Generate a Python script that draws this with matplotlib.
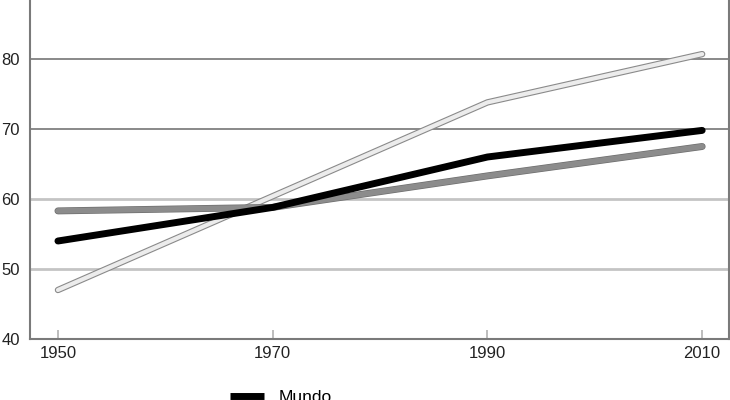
import matplotlib
matplotlib.use('Agg')
import matplotlib.pyplot as plt
import matplotlib.patheffects as pe
from matplotlib.lines import Line2D

years = [1950, 1970, 1990, 2010]
mundo = [54.0, 58.8, 66.0, 69.8]
serie_gris = [58.3, 58.8, 63.3, 67.5]
serie_clara = [47.0, 60.4, 73.8, 80.7]
grid_dark = [70, 80]
grid_light = [50, 60]
yticks = [40, 50, 60, 70, 80]

plt.rcParams['font.family'] = ['Liberation Sans', 'DejaVu Sans']

fig = plt.figure(figsize=(7.3, 4.0), dpi=100)
ax = fig.add_axes([29.5 / 730, 61 / 400, 699.5 / 730, 339 / 400])

# lineas de la cuadricula
for g in grid_light:
    ax.axhline(g, color='#c4c4c4', lw=2.0, zorder=1)
for g in grid_dark:
    ax.axhline(g, color='#808080', lw=1.3, zorder=1)

ax.plot(years, serie_clara, color='#ececec', lw=3.0, solid_capstyle='round',
        solid_joinstyle='round', zorder=3,
        path_effects=[pe.Stroke(linewidth=4.6, foreground='#8a8a8a'), pe.Normal()])
ax.plot(years, serie_gris, color='#8c8c8c', lw=4.0, solid_capstyle='round',
        solid_joinstyle='round', zorder=4,
        path_effects=[pe.Stroke(linewidth=5.0, foreground='#6e6e6e'), pe.Normal()])
ax.plot(years, mundo, color='black', lw=5.0, solid_capstyle='round',
        solid_joinstyle='round', zorder=5)

ax.set_xlim(1947.35, 2012.5)
ax.set_ylim(40, 40 + 339 / 7.0)
ax.set_xticks(years)
ax.set_yticks(yticks)

for s in ['left', 'bottom', 'right']:
    ax.spines[s].set_color('#7a7a7a')
    ax.spines[s].set_linewidth(1.5)
ax.spines['top'].set_visible(False)

ax.tick_params(axis='x', direction='in', length=6.5, width=1.3, color='#b8b8b8',
               pad=5, labelsize=12, labelcolor='#222222')
ax.tick_params(axis='y', length=0, pad=7, labelsize=12, labelcolor='#222222')

# leyenda (cortada por el borde inferior)
h = Line2D([], [], color='black', lw=5.0, solid_capstyle='butt')
fig.legend(handles=[h], labels=['Mundo'], loc='center left', frameon=False,
           bbox_to_anchor=(230 / 730, 3 / 400), fontsize=12.5, handlelength=1.95,
           handletextpad=0.85, borderaxespad=0, borderpad=0)

fig.savefig('out.png', dpi=100)
